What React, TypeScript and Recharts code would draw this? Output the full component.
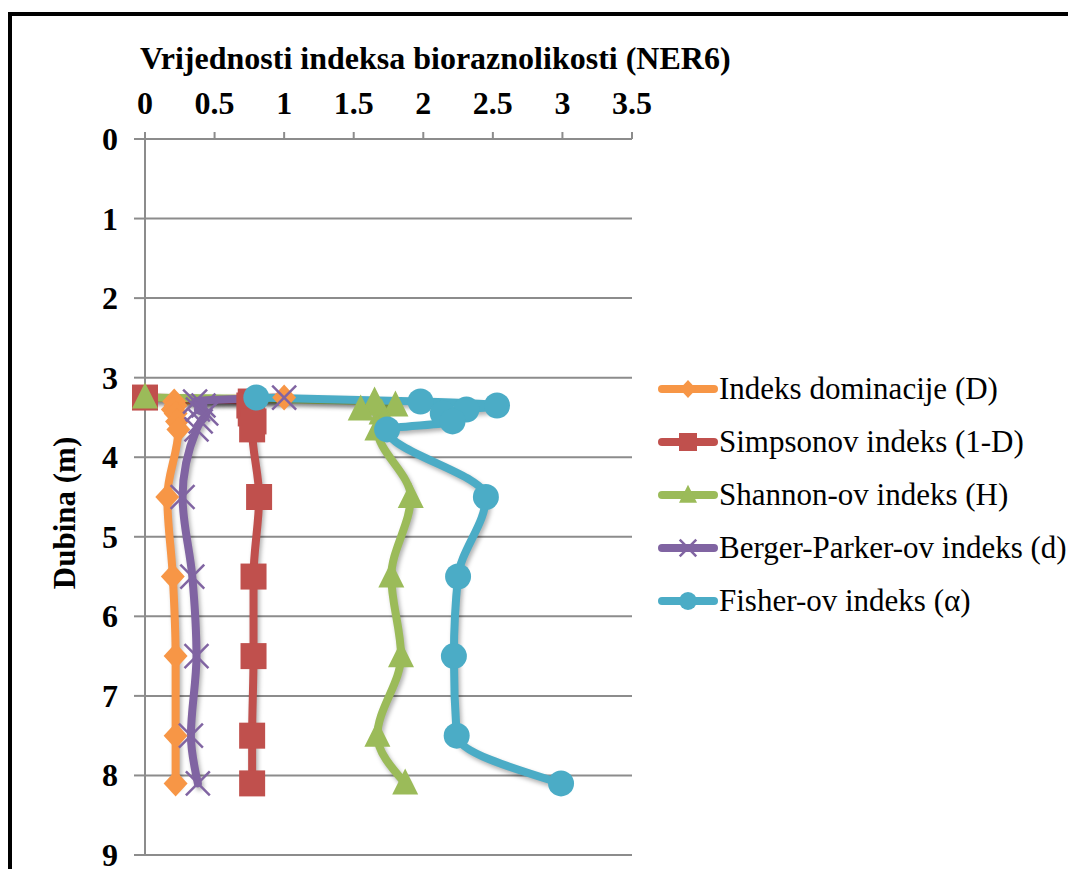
import { LineChart, Line, XAxis, YAxis, CartesianGrid } from 'recharts';

// Podaci (NER6)
const depths = [3.25, 3.3, 3.35, 3.4, 3.45, 3.55, 3.65, 4.5, 5.5, 6.5, 7.5, 8.1];
const dominacija = [1.0, 0.21, 0.22, 0.2, 0.22, 0.23, 0.24, 0.16, 0.2, 0.22, 0.22, 0.22];
const simpson = [0, 0.76, 0.75, 0.77, 0.76, 0.78, 0.77, 0.82, 0.78, 0.78, 0.77, 0.77];
const shannon = [0, 1.65, 1.8, 1.55, 1.7, 1.72, 1.67, 1.91, 1.77, 1.84, 1.67, 1.87];
const bergerParker = [1.0, 0.36, 0.42, 0.38, 0.44, 0.4, 0.37, 0.27, 0.34, 0.37, 0.33, 0.38];
const fisher = [0.8, 1.98, 2.53, 2.31, 2.14, 2.21, 1.74, 2.45, 2.25, 2.22, 2.24, 2.99];

const xTicks = [0, 0.5, 1, 1.5, 2, 2.5, 3, 3.5];
const yTicks = [0, 1, 2, 3, 4, 5, 6, 7, 8, 9];

const seriesNames = [
    'Indeks dominacije (D)',
    'Simpsonov indeks (1-D)',
    'Shannon-ov indeks (H)',
    'Berger-Parker-ov indeks (d)',
    'Fisher-ov indeks (α)',
];
const seriesKeys = ['D', 'S', 'H', 'd', 'a'];
const seriesColors = ['#F79646', '#C0504D', '#9BBB59', '#8064A2', '#4BACC6'];
const seriesMarkers = ['diamond', 'square', 'triangle', 'cross', 'circle'];

const data = depths.map((depth, i) => ({
    depth,
    D: dominacija[i],
    S: simpson[i],
    H: shannon[i],
    d: bergerParker[i],
    a: fisher[i],
}));

const FONT = '"Liberation Serif", "Times New Roman", serif';

function Marker({ kind, cx, cy, color, r = 13 }: { kind: string; cx: number; cy: number; color: string; r?: number }) {
    if (kind === 'diamond')
        return <path d={`M${cx},${cy - r}L${cx + r * 0.92},${cy}L${cx},${cy + r}L${cx - r * 0.92},${cy}Z`} fill={color} />;
    if (kind === 'square') return <rect x={cx - r} y={cy - r} width={2 * r} height={2 * r} fill={color} />;
    if (kind === 'triangle')
        return <path d={`M${cx},${cy - r * 1.15}L${cx + r},${cy + r * 0.85}L${cx - r},${cy + r * 0.85}Z`} fill={color} />;
    if (kind === 'cross')
        return (
            <g stroke={color} strokeWidth={2.5}>
                <line x1={cx - r * 0.92} y1={cy - r * 0.92} x2={cx + r * 0.92} y2={cy + r * 0.92} />
                <line x1={cx - r * 0.92} y1={cy + r * 0.92} x2={cx + r * 0.92} y2={cy - r * 0.92} />
            </g>
        );
    return <circle cx={cx} cy={cy} r={r} fill={color} />;
}

const XTick = (props: any) => (
    <text x={props.x} y={106} textAnchor="middle" fontFamily={FONT} fontWeight="bold" fontSize={32} fill="#000">
        {props.payload.value}
    </text>
);

const YTick = (props: any) => (
    <text x={110} y={props.y + 11} textAnchor="end" fontFamily={FONT} fontWeight="bold" fontSize={32} fill="#000">
        {props.payload.value}
    </text>
);

export default function App() {
    return (
        <div style={{ position: 'relative', width: 1068, height: 861, overflow: 'hidden', background: '#fff' }}>
            <div style={{ position: 'absolute', left: 0, top: 4, width: 1200, height: 1000, border: '4px solid #000' }} />
            <style>{`.recharts-line { filter: drop-shadow(2px 3px 2px rgba(0,0,0,0.3)); }`}</style>
            <div
                style={{
                    position: 'absolute', left: 132, top: 34, fontFamily: FONT, fontWeight: 'bold',
                    fontSize: 32, lineHeight: '32px', whiteSpace: 'nowrap', color: '#000',
                }}
            >
                Vrijednosti indeksa bioraznolikosti (NER6)
            </div>
            <div
                style={{
                    position: 'absolute', left: 57, top: 505, transform: 'translate(-50%, -50%) rotate(-90deg)',
                    fontFamily: FONT, fontWeight: 'bold', fontSize: 31, lineHeight: '32px', whiteSpace: 'nowrap', color: '#000',
                }}
            >
                Dubina (m)
            </div>
            <div style={{ position: 'absolute', left: 0, top: 0 }}>
                <LineChart
                    width={1068}
                    height={861}
                    data={data}
                    layout="vertical"
                    margin={{ top: 91, left: 0, right: 444, bottom: 14 }}
                >
                    <CartesianGrid horizontal vertical={false} stroke="#8c8c8c" strokeWidth={2} />
                    <XAxis
                        type="number"
                        orientation="top"
                        domain={[0, 3.5]}
                        ticks={xTicks}
                        height={40}
                        axisLine={false}
                        tickLine={{ stroke: '#8c8c8c', strokeWidth: 2 }}
                        tickSize={7}
                        tick={<XTick />}
                        interval={0}
                    />
                    <YAxis
                        type="number"
                        dataKey="depth"
                        domain={[0, 9]}
                        ticks={yTicks}
                        width={137}
                        axisLine={{ stroke: '#8c8c8c', strokeWidth: 2 }}
                        tickLine={{ stroke: '#8c8c8c', strokeWidth: 2 }}
                        tickSize={11}
                        tick={<YTick />}
                        interval={0}
                    />
                    {seriesKeys.map((key, s) => (
                        <Line
                            key={key}
                            dataKey={key}
                            name={seriesNames[s]}
                            type="monotone"
                            stroke={seriesColors[s]}
                            strokeWidth={8}
                            strokeLinecap="round"
                            strokeLinejoin="round"
                            isAnimationActive={false}
                            activeDot={false}
                            dot={(p: any) => (
                                <Marker key={`${key}-${p.index}`} kind={seriesMarkers[s]} cx={p.cx} cy={p.cy} color={seriesColors[s]} />
                            )}
                        />
                    ))}
                </LineChart>
            </div>
            <div style={{ position: 'absolute', left: 649, top: 354 }}>
                {seriesNames.map((name, s) => (
                    <div key={name} style={{ display: 'flex', alignItems: 'center', height: 53 }}>
                        <svg width={62} height={30}>
                            <line x1={5} y1={15} x2={57} y2={15} stroke={seriesColors[s]} strokeWidth={8} strokeLinecap="round" />
                            <Marker kind={seriesMarkers[s]} cx={31} cy={15} color={seriesColors[s]} r={9} />
                        </svg>
                        <span style={{ fontFamily: FONT, fontSize: 31, whiteSpace: 'nowrap', color: '#000' }}>{name}</span>
                    </div>
                ))}
            </div>
        </div>
    );
}
